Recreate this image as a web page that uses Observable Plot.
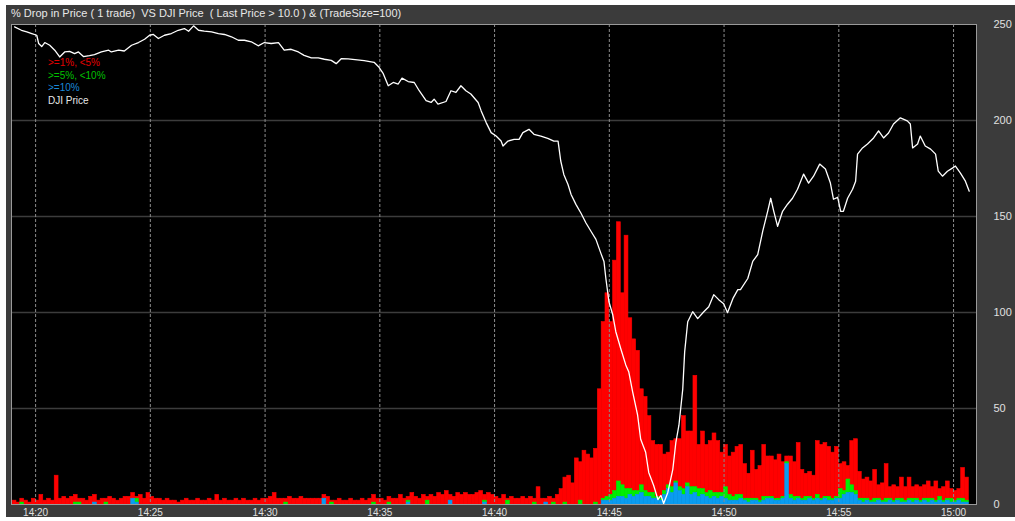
<!DOCTYPE html>
<html>
<head>
<meta charset="utf-8">
<script src="https://cdn.jsdelivr.net/npm/d3@7"></script>
<script src="https://cdn.jsdelivr.net/npm/@observablehq/plot@0.6"></script>
<style>
html,body{margin:0;padding:0;background:#ffffff;}
#wrap{position:relative;width:1015px;height:521px;overflow:hidden;}
#bg{position:absolute;left:6px;top:5px;width:1009px;height:512px;background:#3b3b3b;}
#title{position:absolute;left:11px;top:7px;font:11px "Liberation Sans",Arial,sans-serif;color:#e8e8e8;white-space:pre;}
#chart{position:absolute;left:0;top:0;}
#legend{position:absolute;left:48px;top:57px;font:10px "Liberation Sans",Arial,sans-serif;line-height:12.7px;white-space:pre;}
</style>
</head>
<body>
<div id="wrap">
  <div id="bg"></div>
  <div id="chart"></div>
  <div id="title"></div>
  <div id="legend"></div>
</div>
<script>
// ---- data ----
const titleText = "% Drop in Price ( 1 trade)  VS DJI Price  ( Last Price > 10.0 ) & (TradeSize=100)";
const catNames = [">=1%, <5%", ">=5%, <10%", ">=10%"];
const lineName = "DJI Price";
const xTicks = ["14:20","14:25","14:30","14:35","14:40","14:45","14:50","14:55","15:00"];
const yTicks = [0, 50, 100, 150, 200, 250];
const gridY = [50, 100, 150, 200];
const barStart = "14:19:00";
const binSeconds = 10;

// trades per 10-second bin, ">=1%, <5%"
const red = [
 2,1,2,2,1,3,2,5,2,3,
 2,15,3,4,3,4,4,2,3,2,
 4,4,2,3,2,4,3,2,3,4,
 4,3,1,5,3,6,4,3,3,2,
 3,2,2,1,2,3,2,2,3,2,
 2,3,2,5,2,3,2,2,3,2,
 3,2,2,3,2,3,3,4,6,3,
 3,2,4,3,3,4,3,3,3,3,
 3,2,4,1,2,3,2,2,3,2,
 2,3,2,3,4,3,3,2,3,3,
 3,5,3,2,6,4,3,5,2,5,
 4,6,5,7,3,4,6,5,6,5,
 5,6,7,3,6,5,4,3,5,1,
 4,3,3,4,3,4,2,9,3,2,
 4,2,5,8,13,15,11,24,20,28,
 26,24,28,60,92,106,90,120,135,100,
 132,89,79,73,50,49,40,27,27,28,
 19,17,24,22,25,38,27,29,58,23,
 30,25,26,31,27,21,22,20,23,25,
 26,18,13,25,15,18,27,21,21,20,
 23,18,3,20,18,28,15,12,13,12,
 28,28,28,26,24,26,13,15,7,23,
 27,14,10,11,10,15,7,9,18,6,
 8,6,11,7,11,6,7,7,7,9,
 6,10,4,7,9,5,5,5,16,12
];
// ">=5%, <10%"
const green = [
 0,0,1,0,0,0,0,0,0,0,
 0,0,0,0,0,0,1,1,0,0,
 0,0,0,0,1,0,0,0,0,0,
 0,0,2,0,0,0,0,0,0,0,
 0,0,0,0,0,0,0,0,0,0,
 0,0,0,0,0,0,0,0,0,0,
 0,0,0,0,0,0,0,0,0,0,
 0,1,0,0,0,0,0,0,0,0,
 0,0,0,1,0,0,0,0,0,0,
 0,0,0,0,1,0,0,0,1,0,
 0,0,0,1,0,0,0,0,2,0,
 0,0,0,0,0,0,0,0,0,0,
 0,0,0,1,0,0,0,0,0,2,
 0,0,0,0,0,0,1,0,0,0,
 0,1,0,0,1,0,0,0,2,0,
 0,0,1,0,1,2,3,4,8,6,
 5,3,3,2,4,3,2,3,1,1,
 2,2,3,1,2,3,2,4,3,4,
 3,2,4,2,3,2,6,3,2,3,
 2,1,2,1,1,1,2,1,1,1,
 1,1,1,2,2,1,1,2,1,1,
 2,1,1,2,1,1,5,2,7,4,
 2,1,2,1,1,2,1,1,2,1,
 1,1,2,1,1,2,1,1,1,2,
 1,1,2,1,1,2,1,1,2,1
];
// ">=10%"
const blue = [
 0,0,0,0,0,0,0,0,0,0,
 0,0,0,0,0,0,0,0,0,0,
 0,1,0,0,0,0,0,0,0,0,
 0,3,1,0,0,0,0,0,0,0,
 0,0,0,0,0,0,0,0,0,0,
 0,0,0,0,0,0,0,0,0,0,
 0,0,0,0,0,0,0,0,0,0,
 0,0,0,0,0,0,0,0,0,0,
 0,3,0,0,0,0,0,0,0,0,
 0,0,0,0,0,0,0,0,0,0,
 0,0,0,1,0,0,0,0,0,0,
 0,0,0,0,2,0,0,0,0,0,
 0,0,0,1,0,0,0,0,0,0,
 0,0,0,0,0,0,0,0,0,1,
 0,0,0,0,0,0,0,0,0,0,
 0,0,0,0,2,2,2,3,4,4,
 3,5,4,5,6,4,4,3,3,2,
 5,8,6,11,7,5,9,5,6,4,
 5,4,3,4,3,4,3,2,2,2,
 3,2,1,2,2,1,2,3,3,2,
 2,3,21,3,2,3,2,2,3,2,
 3,2,3,2,2,3,3,5,6,6,
 5,2,1,2,1,1,2,1,1,2,
 1,2,1,1,2,1,2,1,2,1,
 2,1,2,1,2,1,1,2,1,1
];

// DJI price, read on the chart's 0-250 scale
const djiTime = [
 "14:19:05","14:19:23","14:19:37","14:19:50","14:20:03","14:20:08","14:20:16","14:20:24","14:20:37","14:20:50",
 "14:21:03","14:21:16","14:21:29","14:21:42","14:21:52","14:22:05","14:22:21","14:22:34","14:22:52","14:23:11",
 "14:23:18","14:23:37","14:23:52","14:24:11","14:24:29","14:24:45","14:24:58","14:25:08","14:25:21","14:25:37",
 "14:25:55","14:26:13","14:26:29","14:26:40","14:26:53","14:27:06","14:27:21","14:27:40","14:27:58","14:28:14",
 "14:28:32","14:28:50","14:29:06","14:29:24","14:29:42","14:29:58","14:30:16","14:30:35","14:30:50","14:31:08",
 "14:31:27","14:31:42","14:32:01","14:32:19","14:32:35","14:32:53","14:33:06","14:33:19","14:33:37","14:34:19",
 "14:34:45","14:34:58","14:35:09","14:35:22","14:35:35","14:35:48","14:35:58","14:36:14","14:36:30","14:36:43",
 "14:37:01","14:37:14","14:37:22","14:37:32","14:37:53","14:38:06","14:38:19","14:38:32","14:38:45","14:38:58",
 "14:39:17","14:39:25","14:39:38","14:39:51","14:40:04","14:40:17","14:40:22","14:40:35","14:40:51","14:41:04",
 "14:41:14","14:41:30","14:41:43","14:42:01","14:42:19","14:42:35","14:42:46","14:42:53","14:43:01","14:43:12",
 "14:43:20","14:43:33","14:43:46","14:43:59","14:44:12","14:44:25","14:44:38","14:44:46","14:44:51","14:44:59",
 "14:45:09","14:45:17","14:45:30","14:45:43","14:45:51","14:46:01","14:46:14","14:46:22","14:46:35","14:46:43",
 "14:46:56","14:47:07","14:47:15","14:47:22","14:47:33","14:47:46","14:47:54","14:48:02","14:48:12","14:48:17",
 "14:48:25","14:48:38","14:48:51","14:49:07","14:49:20","14:49:33","14:49:46","14:49:59","14:50:09","14:50:23",
 "14:50:36","14:50:43","14:51:02","14:51:15","14:51:28","14:51:41","14:51:54","14:52:02","14:52:10","14:52:20",
 "14:52:33","14:52:46","14:52:59","14:53:12","14:53:28","14:53:41","14:53:54","14:54:10","14:54:25","14:54:38",
 "14:54:46","14:54:57","14:55:05","14:55:12","14:55:23","14:55:36","14:55:44","14:55:49","14:56:02","14:56:15",
 "14:56:31","14:56:44","14:56:57","14:57:10","14:57:23","14:57:41","14:57:59","14:58:07","14:58:13","14:58:26",
 "14:58:33","14:58:46","14:59:00","14:59:13","14:59:20","14:59:31","14:59:44","14:59:57","15:00:05","15:00:18",
 "15:00:31","15:00:41"
];
const djiLevel = [
 248.8,247.0,246.2,245.3,244.4,240.1,238.5,240.6,239.2,236.6,
 233.1,235.7,236.0,234.8,235.7,233.3,233.8,234.3,235.7,236.6,
 235.7,236.6,236.2,239.2,240.6,242.3,244.4,244.8,242.7,244.4,
 245.3,247.0,247.9,246.5,249.3,247.0,246.5,246.2,245.3,244.8,
 243.6,241.8,241.8,241.0,238.9,240.6,240.1,240.6,236.6,237.1,
 235.7,233.9,232.6,232.6,231.9,231.3,229.6,232.2,232.1,231.2,
 230.3,227.7,224.4,218.1,219.8,219.0,222.1,220.3,219.8,215.5,
 210.3,209.4,211.1,208.5,209.9,215.5,214.6,218.1,215.5,213.8,
 209.4,205.0,198.9,193.7,191.9,189.3,186.7,189.3,190.2,190.2,
 193.7,195.4,192.8,191.9,190.7,189.3,189.3,178.9,171.9,166.7,
 161.5,156.2,151.7,146.6,142.3,138.1,130.8,126.6,117.7,105.6,
 98.8,90.0,81.1,72.7,69.0,58.6,46.5,34.0,27.2,16.7,
 9.9,2.6,4.7,0.5,6.3,18.3,32.4,41.3,60.1,79.5,
 95.2,100.4,96.8,100.4,103.0,109.3,106.7,104.6,99.9,107.2,
 111.9,111.9,117.7,126.6,130.2,142.3,152.7,159.5,152.7,144.9,
 152.7,156.4,159.5,164.2,172.1,167.4,171.0,177.3,174.7,167.4,
 159.0,160.0,152.7,152.7,159.5,164.2,168.4,182.5,185.7,187.8,
 190.9,194.6,190.9,193.5,198.2,201.4,199.8,198.2,185.7,187.8,
 191.9,186.7,185.1,182.5,173.6,171.0,173.6,175.2,176.3,172.6,
 168.4,163.2
];

// ---- build ----
function at(s){ const [h,m,sec] = s.split(":").map(Number); return new Date(2010,4,6,h,m,sec||0); }
const catColors = ["#ff0000", "#00ee00", "#0a9cf0"];
const t0 = at(barStart);
const rows = [];
[[catNames[0], red],[catNames[1], green],[catNames[2], blue]].forEach(([name, arr]) => {
  arr.forEach((v, i) => rows.push({
    cat: name,
    start: new Date(+t0 + i*binSeconds*1000),
    end: new Date(+t0 + (i+1)*binSeconds*1000),
    v
  }));
});
const line = djiTime.map((t, i) => ({t: at(t), v: djiLevel[i]}));
const xTickDates = xTicks.map(t => at(t + ":00"));

const chart = Plot.plot({
  width: 1015, height: 521,
  marginLeft: 11, marginRight: 39, marginTop: 24, marginBottom: 17,
  style: {background: "transparent", color: "#e0e0e0", fontFamily: "'Liberation Sans', Arial, sans-serif", fontSize: "10px"},
  x: {type: "time", domain: [at("14:18:57"), at("15:01:00")]},
  y: {domain: [0, 250]},
  color: {domain: catNames, range: catColors},
  marks: [
    Plot.frame({fill: "#000000"}),
    Plot.ruleY(gridY, {stroke: "#3c3c3c", strokeWidth: 1.5}),
    Plot.rectY(rows, {x1: "start", x2: "end", y: "v", fill: "cat", stroke: "cat", strokeWidth: 0.6, order: [catNames[2], catNames[1], catNames[0]]}),
    Plot.ruleX(xTickDates, {stroke: "#8c8c8c", strokeDasharray: "3,2"}),
    Plot.line(line, {x: "t", y: "v", stroke: "#ffffff", strokeWidth: 1.3}),
    Plot.frame({stroke: "#9a9a9a"}),
    Plot.axisX({ticks: xTickDates, tickSize: 0, tickPadding: 4, tickFormat: d3.timeFormat("%H:%M"), label: null, fontSize: 10}),
    Plot.axisY({ticks: yTicks, anchor: "right", tickSize: 0, tickPadding: 17, textAnchor: "start", label: null, fontSize: 11})
  ]
});
document.getElementById("chart").appendChild(chart);
document.getElementById("title").textContent = titleText;
const legend = document.getElementById("legend");
const legendColors = ["#e00000", "#00c000", "#1a88d8", "#e6e6e6"];
[...catNames, lineName].forEach((name, i) => {
  const d = document.createElement("div");
  d.textContent = name;
  d.style.color = legendColors[i];
  legend.appendChild(d);
});
</script>
</body>
</html>
